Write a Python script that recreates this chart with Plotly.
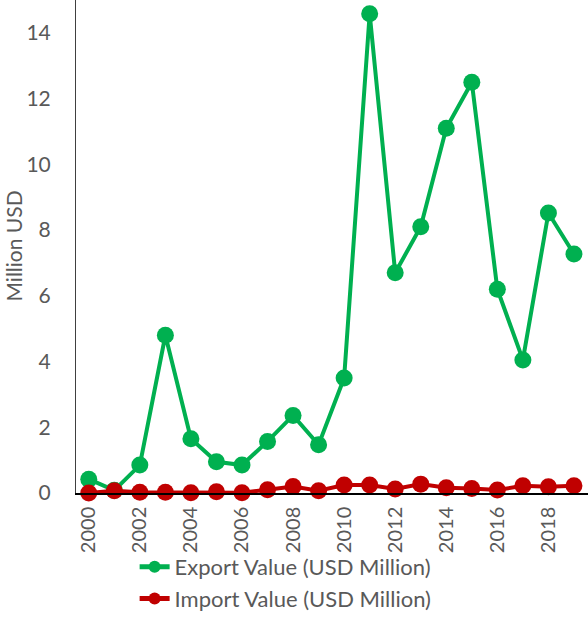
import plotly.graph_objects as go

years = list(range(2000, 2020))
export_values = [0.42, 0.08, 0.85, 4.8, 1.65, 0.95, 0.85, 1.57, 2.36, 1.47,
                 3.5, 14.58, 6.7, 8.1, 11.1, 12.5, 6.2, 4.05, 8.52, 7.27]
import_values = [0.0, 0.07, 0.02, 0.02, 0.01, 0.04, 0.01, 0.1, 0.2, 0.07,
                 0.24, 0.24, 0.12, 0.27, 0.16, 0.14, 0.09, 0.22, 0.19, 0.22]
tick_years = list(range(2000, 2020, 2))

GREEN = "#00B050"
RED = "#C00000"
GREY = "#595959"
FONT = "Lato"

fig = go.Figure()
fig.add_trace(go.Scatter(
    x=years, y=export_values, mode="lines+markers",
    name="Export Value (USD Million)",
    line=dict(color=GREEN, width=4),
    marker=dict(color=GREEN, size=17),
    cliponaxis=False,
))
fig.add_trace(go.Scatter(
    x=years, y=import_values, mode="lines+markers",
    name="Import Value (USD Million)",
    line=dict(color=RED, width=4),
    marker=dict(color=RED, size=17),
    cliponaxis=False,
))

fig.update_layout(
    width=588, height=642,
    margin=dict(l=76, r=0, t=0, b=149),
    paper_bgcolor="white", plot_bgcolor="white",
    font=dict(family=FONT, color=GREY, size=20),
    showlegend=True,
    legend=dict(
        orientation="v", x=0.1145, y=-0.1075, xanchor="left", yanchor="top",
        font=dict(family=FONT, size=22, color=GREY),
        bgcolor="rgba(0,0,0,0)",
        tracegroupgap=0, itemsizing="constant",
    ),
    xaxis=dict(
        range=[1999.5, 2019.55], tickmode="array", tickvals=tick_years,
        ticktext=[str(y) for y in tick_years], tickangle=-90,
        showgrid=False, zeroline=False, showline=True, linecolor="black",
        linewidth=1.5, ticks="", ticklabelstandoff=4,
        tickfont=dict(family=FONT, size=20, color=GREY),
    ),
    yaxis=dict(
        range=[0, 15], tickmode="array", tickvals=[0, 2, 4, 6, 8, 10, 12, 14],
        showgrid=False, zeroline=False, showline=True, linecolor="#404040",
        linewidth=1, ticks="", ticklabelstandoff=20,
        tickfont=dict(family=FONT, size=21, color=GREY),
    ),
    annotations=[dict(
        text="Million USD", textangle=-90, xref="paper", yref="paper",
        x=(13 - 76) / 512, y=0.5, xanchor="center", yanchor="middle",
        showarrow=False, font=dict(family=FONT, size=21, color=GREY),
    )],
)

fig.write_html("out.html", config={"displayModeBar": False},
               post_script="document.body.style.margin='0';")
